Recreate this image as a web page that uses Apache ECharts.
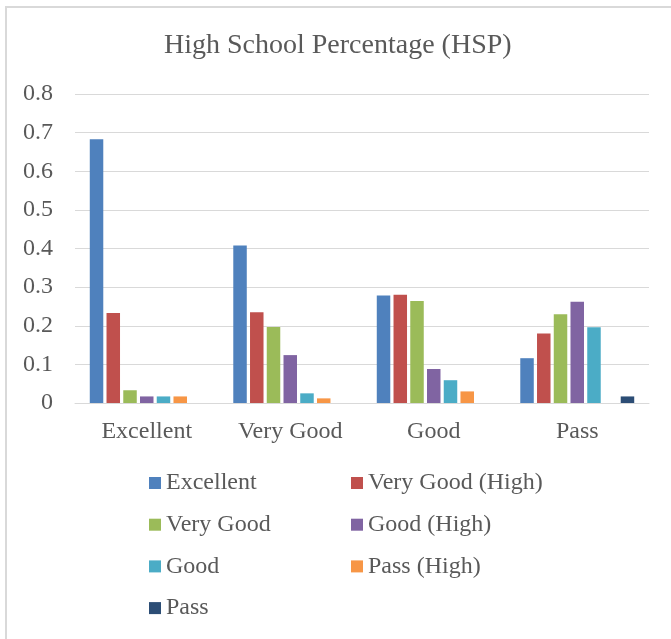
<!DOCTYPE html>
<html>
<head>
<meta charset="utf-8">
<script src="https://cdn.jsdelivr.net/npm/echarts@6/dist/echarts.min.js"></script>
<style>
html,body{margin:0;padding:0;background:#fff;}
#frame{position:absolute;left:5px;top:6px;width:700px;height:700px;border-left:2px solid #d9d9d9;border-top:2px solid #d9d9d9;box-sizing:border-box;}
#chart{position:absolute;left:0;top:0;width:671px;height:639px;}
</style>
</head>
<body>
<div id="frame"></div>
<div id="chart"></div>
<script>
const categories = ['Excellent', 'Very Good', 'Good', 'Pass'];
const seriesNames = ['Excellent', 'Very Good (High)', 'Very Good', 'Good (High)', 'Good', 'Pass (High)', 'Pass'];
const excellent     = [0.683, 0.408, 0.278, 0.116];
const veryGoodHigh  = [0.233, 0.235, 0.280, 0.180];
const veryGood      = [0.033, 0.197, 0.264, 0.230];
const goodHigh      = [0.017, 0.124, 0.088, 0.262];
const good          = [0.017, 0.025, 0.059, 0.196];
const passHigh      = [0.017, 0.012, 0.030, 0];
const pass          = [0, 0, 0, 0.017];
const yTicks = [0, 0.1, 0.2, 0.3, 0.4, 0.5, 0.6, 0.7, 0.8];

const colors = ['#4F81BD', '#C0504D', '#9BBB59', '#8064A2', '#4BACC6', '#F79646', '#2C4D75'];
const values = [excellent, veryGoodHigh, veryGood, goodHigh, good, passHigh, pass];

const chart = echarts.init(document.getElementById('chart'));
const font = '"Liberation Serif", "Times New Roman", serif';
const txt = '#595959';

const legendCommon = {
  orient: 'vertical',
  padding: 0,
  itemWidth: 12,
  itemHeight: 12,
  itemGap: 17.7,
  itemStyle: {borderWidth: 0},
  textStyle: {fontFamily: font, fontSize: 24, color: txt, lineHeight: 24},
  icon: 'rect',
  selectedMode: false
};

chart.setOption({
  animation: false,
  color: colors,
  title: {
    text: 'High School Percentage (HSP)',
    left: 164,
    top: 32,
    padding: 0,
    textStyle: {fontFamily: font, fontSize: 28, fontWeight: 'normal', color: txt}
  },
  legend: [
    Object.assign({left: 149, top: 471, data: [seriesNames[0], seriesNames[2], seriesNames[4], seriesNames[6]]}, legendCommon),
    Object.assign({left: 351, top: 471, data: [seriesNames[1], seriesNames[3], seriesNames[5]]}, legendCommon)
  ],
  grid: {left: 75, right: 22, top: 94, bottom: 236, containLabel: false},
  xAxis: {
    type: 'category',
    data: categories,
    axisLine: {lineStyle: {color: '#d9d9d9', width: 1}},
    axisTick: {show: false},
    axisLabel: {fontFamily: font, fontSize: 24, color: txt, margin: 17}
  },
  yAxis: {
    type: 'value',
    min: 0,
    max: 0.8,
    interval: 0.1,
    axisLine: {show: false},
    axisTick: {show: false},
    splitLine: {lineStyle: {color: '#d9d9d9', width: 1}},
    axisLabel: {
      fontFamily: font, fontSize: 24, color: txt, margin: 22,
      formatter: v => { const t = yTicks.find(x => Math.abs(x - v) < 1e-9); return t === undefined ? '' : String(t); }
    }
  },
  series: seriesNames.map((n, i) => ({
    name: n,
    type: 'bar',
    data: values[i],
    barWidth: 13.5,
    barGap: '24%',
    itemStyle: {color: colors[i]}
  }))
});
</script>
</body>
</html>
